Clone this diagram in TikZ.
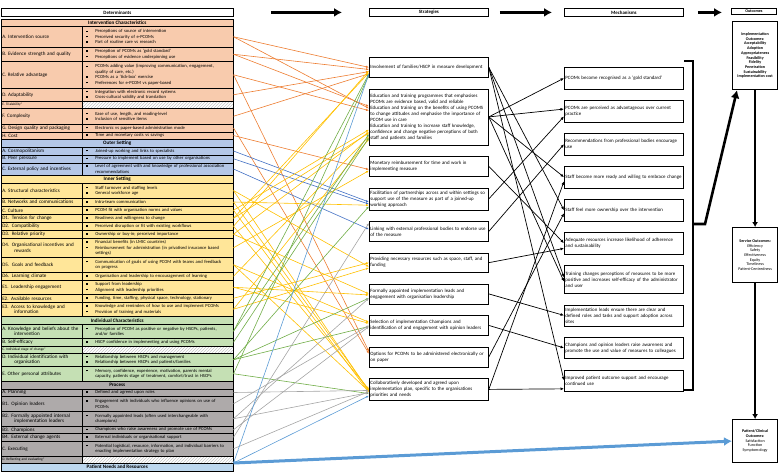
\documentclass[tikz,border=0pt]{standalone}
\usepackage{fontspec}
\setmainfont{Carlito}
\usepackage{xcolor}
\usepackage{tikz}
\usetikzlibrary{arrows.meta,positioning,patterns}

\definecolor{icfill}{HTML}{F8CBAD}
\definecolor{osfill}{HTML}{B4C7E7}
\definecolor{isfill}{HTML}{FFE699}
\definecolor{idfill}{HTML}{C5E0B4}
\definecolor{prfill}{HTML}{AEAAAA}
\definecolor{pnfill}{HTML}{BDD7EE}
\definecolor{icline}{HTML}{ED7D31}
\definecolor{osline}{HTML}{4472C4}
\definecolor{isline}{HTML}{FFC000}
\definecolor{idline}{HTML}{70AD47}
\definecolor{prline}{HTML}{A5A5A5}
\definecolor{pnline}{HTML}{5B9BD5}

\newcommand{\tabfont}{\fontsize{5.1}{5.5}\selectfont}
\newcommand{\itemfont}{\fontsize{4.6}{5.4}\selectfont}
\newcommand{\tinyfont}{\fontsize{3.5}{4}\selectfont}
\newcommand{\boxfont}{\fontsize{4.9}{6}\selectfont}
\newcommand{\outfont}{\fontsize{4.1}{4.7}\selectfont}
\newcommand{\bul}{\makebox[12pt][l]{\hspace{3pt}\rule[0.9pt]{1.5pt}{1.5pt}}}
\newcommand{\cont}{\hspace*{12pt}}

\tikzstyle{labcell} = [draw, line width=0.5pt, anchor=north west, text width=79pt,
    inner xsep=1pt, inner ysep=0pt, align=left, font=\tabfont]
\tikzstyle{itemcell} = [draw, line width=0.5pt, anchor=north west, text width=149pt,
    inner xsep=1pt, inner ysep=0pt, align=left, font=\itemfont]
\tikzstyle{hatchcell} = [itemcell, pattern=north east lines, pattern color=gray!45]
\tikzstyle{headcell} = [draw, line width=0.5pt, anchor=north west, minimum width=232pt,
    inner sep=0pt, align=center, font=\tabfont\bfseries]
\tikzstyle{colhead} = [draw, line width=0.8pt, anchor=north west, minimum height=8pt,
    inner sep=0pt, font=\boxfont\bfseries]
\tikzstyle{stratbox} = [draw, line width=0.8pt, fill=white, text width=117pt,
    inner xsep=1pt, inner ysep=0pt, align=left, font=\boxfont]
\tikzstyle{outbox} = [draw, line width=1.2pt, anchor=north west, minimum width=45pt,
    inner sep=0pt, align=center, font=\outfont]
\tikzstyle{link} = [draw, -{Latex[length=3pt,width=2.4pt]}, line width=0.6pt]
\tikzstyle{mlink} = [draw, black, -{Latex[length=3.5pt,width=3pt]}, line width=0.7pt]
\tikzstyle{bigarrow} = [draw, line width=3pt, -{Latex[length=8pt,width=9pt]}]
\tikzstyle{vlink} = [draw, line width=2pt, -{Latex[length=5pt,width=6pt]}]

% one row of the determinants table: name, top, height, colour, label, items
\newcommand{\detrow}[6]{%
  \node[labcell, fill=#4, minimum height=#3pt] (#1l) at (1,#2) {#5};
  \node[itemcell, fill=#4, minimum height=#3pt] (#1) at (82,#2) {#6};}
\newcommand{\hatchrow}[5]{%
  \node[labcell, fill=#4, minimum height=#3pt, font=\tinyfont] (#1l) at (1,#2) {#5};
  \node[hatchcell, minimum height=#3pt] (#1) at (82,#2) {};}
\newcommand{\headrow}[5]{%
  \node[headcell, fill=#4, minimum height=#3pt] (#1) at (1,#2) {#5};}

\begin{document}
\begin{tikzpicture}[x=1pt, y=-1pt]
    \useasboundingbox (0,0) rectangle (778,472);

    % Column headers
    \node[colhead, minimum width=232pt] (dethead) at (1,8) {Determinants};
    \node[colhead, minimum width=119pt] (strhead) at (369,8) {Strategies};
    \node[colhead, minimum width=119pt] (mechhead) at (564,8) {Mechanisms};
    \node[colhead, minimum width=45pt, minimum height=5.5pt, font=\outfont\bfseries] (outhead) at (731,8) {Outcomes};
    \draw[bigarrow] ([xshift=37pt]dethead.east) -- ([xshift=-27pt]strhead.west);
    \draw[bigarrow] ([xshift=11pt]strhead.east) -- ([xshift=-12pt]mechhead.west);
    \draw[bigarrow] ([xshift=14pt]mechhead.east) -- ([xshift=-9pt]mechhead.east -| outhead.west);

    % Determinants
    \headrow{hIC}{19}{7}{icfill}{Intervention Characteristics}
    \detrow{IA}{26}{21}{icfill}{A. Intervention source}{\bul Perceptions of source of intervention\\ \bul Perceived security of e-PCOMs\\ \bul Part of routine care vs research}
    \detrow{IB}{47}{14}{icfill}{B. Evidence strength and quality}{\bul Perception of PCOMs as `gold standard'\\ \bul Perceptions of evidence underpinning use}
    \detrow{IC}{61}{27}{icfill}{C. Relative advantage}{\bul PCOMs adding value (improving communication, engagement,\\ \cont quality of care, etc.)\\ \bul PCOMs as a `tick-box' exercise\\ \bul Preferences for e-PCOM vs paper-based}
    \detrow{ID}{88}{13}{icfill}{D. Adaptability}{\bul Integration with electronic record systems\\ \bul Cross-cultural validity and translation}
    \hatchrow{IE}{101}{7}{icfill}{E. Trialability*}
    \detrow{IF}{108}{16}{icfill}{F. Complexity}{\bul Ease of use, length, and reading-level\\ \bul Inclusion of sensitive items}
    \detrow{IG}{124}{7.5}{icfill}{G. Design quality and packaging}{\bul Electronic vs paper-based administration mode}
    \detrow{IH}{131.5}{7.5}{icfill}{H. Cost}{\bul Time and monetary costs vs savings}
    \headrow{hOS}{139}{8}{osfill}{Outer Setting}
    \detrow{OA}{147}{7.5}{osfill}{A. Cosmopolitanism}{\bul Joined-up working and links to specialists}
    \detrow{OB}{154.5}{8}{osfill}{B. Peer pressure}{\bul Pressure to implement based on use by other organisations}
    \detrow{OC}{162.5}{12.5}{osfill}{C. External policy and incentives}{\bul Level of agreement with and knowledge of professional association\\ \cont recommendations}
    \headrow{hIS}{175}{8}{isfill}{Inner Setting}
    \detrow{NA}{183}{14.5}{isfill}{A. Structural characteristics}{\bul Staff turnover and staffing levels\\ \bul General workforce age}
    \detrow{NB}{197.5}{8.5}{isfill}{B. Networks and communications}{\bul Intra-team communication}
    \detrow{NC}{206}{8}{isfill}{C. Culture}{\bul PCOM fit with organisation norms and values}
    \detrow{ND1}{214}{8}{isfill}{D1. Tension for change}{\bul Readiness and willingness to change}
    \detrow{ND2}{222}{8}{isfill}{D2. Compatibility}{\bul Perceived disruption or fit with existing workflows}
    \detrow{ND3}{230}{8}{isfill}{D3. Relative priority}{\bul Ownership or buy-in; perceived importance}
    \detrow{ND4}{238}{19}{isfill}{D4. Organisational incentives and\\ \cont rewards}{\bul Financial benefits (in LMIC countries)\\ \bul Reimbursement for administration (in privatised insurance based\\ \cont settings)}
    \detrow{ND5}{257}{15}{isfill}{D5. Goals and feedback}{\bul Communication of goals of using PCOM with teams and feedback\\ \cont on progress}
    \detrow{ND6}{272}{8}{isfill}{D6. Learning climate}{\bul Organisation and leadership to encouragement of learning}
    \detrow{NE1}{280}{14}{isfill}{E1. Leadership engagement}{\bul Support from leadership\\ \bul Alignment with leadership priorities}
    \detrow{NE2}{294}{8}{isfill}{E2. Available resources}{\bul Funding, time, staffing, physical space, technology, stationary}
    \detrow{NE3}{302}{14}{isfill}{E3. Access to knowledge and\\ \cont information}{\bul Knowledge and reminders of how to use and implement PCOMs\\ \bul Provision of training and materials}
    \headrow{hID}{316}{8}{idfill}{Individual Characteristics}
    \detrow{GA}{324}{14}{idfill}{A. Knowledge and beliefs about the\\ \cont intervention}{\bul Perception of PCOM as positive or negative by HSCPs, patients,\\ \cont and/or families}
    \detrow{GB}{338}{8}{idfill}{B. Self-efficacy}{\bul HSCP confidence in implementing and using PCOMs}
    \hatchrow{GC}{346}{7}{idfill}{C. Individual stage of change*}
    \detrow{GD}{353}{13}{idfill}{D. Individual identification with\\ \cont organisation}{\bul Relationship between HSCPs and management\\ \bul Relationship between HSCPs and patients/families}
    \detrow{GE}{366}{15}{idfill}{E. Other personal attributes}{\bul Memory, confidence, experience, motivation, parents mental\\ \cont capacity, patients stage of treatment, comfort/trust in HSCPs}
    \headrow{hPR}{381}{7.5}{prfill}{Process}
    \detrow{PA}{388.5}{7.5}{prfill}{A. Planning}{\bul Defined and agreed upon roles}
    \detrow{PB1}{396}{15}{prfill}{B1. Opinion leaders}{\bul Engagement with individuals who influence opinions on use of\\ \cont PCOMs}
    \detrow{PB2}{411}{15}{prfill}{B2. Formally appointed internal\\ \cont implementation leaders}{\bul Formally appointed leads (often used interchangeable with\\ \cont champions)}
    \detrow{PB3}{426}{7}{prfill}{B3. Champions}{\bul Champions who raise awareness and promote use of PCOMs}
    \detrow{PB4}{433}{8}{prfill}{B4. External change agents}{\bul External individuals or organisational support}
    \detrow{PC}{441}{15}{prfill}{C. Executing}{\bul Potential logistical, resource, information, and individual barriers to\\ \cont enacting implementation strategy to plan}
    \hatchrow{PD}{456}{7}{prfill}{D. Reflecting and evaluating*}
    \headrow{PN}{463}{7.5}{pnfill}{Patient Needs and Resources}

    % Strategies
    \node[stratbox, minimum height=20pt, anchor=north west] (s1) at (369,57) {Involvement of families/HSCP in measure development};
    \node[stratbox, minimum height=56pt, below=10.7pt of s1] (s2) {Education and training programmes that emphasises\\ PCOMs are evidence based, valid and reliable\\ Education and training on the benefits of using PCOMS\\ to change attitudes and emphasise the importance of\\ PCOM use in care\\ Education and training to increase staff knowledge,\\ confidence and change negative perceptions of both\\ staff and patients and families};
    \node[stratbox, minimum height=20pt, below=10.7pt of s2] (s3) {Monetary reimbursement for time and work in\\ implementing measure};
    \node[stratbox, minimum height=22pt, below=10.7pt of s3] (s4) {Facilitation of partnerships across and within settings so\\ support use of the measure as part of a joined-up\\ working approach};
    \node[stratbox, minimum height=20pt, below=10.7pt of s4] (s5) {Linking with external professional bodies to endorse use\\ of the measure};
    \node[stratbox, minimum height=19.5pt, below=10.7pt of s5] (s6) {Providing necessary resources such as space, staff, and\\ funding};
    \node[stratbox, minimum height=20pt, below=10.7pt of s6] (s7) {Formally appointed implementation leads and\\ engagement with organisation leadership};
    \node[stratbox, minimum height=20pt, below=10.7pt of s7] (s8) {Selection of implementation Champions and\\ identification of and engagement with opinion leaders};
    \node[stratbox, minimum height=20pt, below=10.7pt of s8] (s9) {Options for PCOMs to be administered electronically or\\ on paper};
    \node[stratbox, minimum height=22pt, below=10.7pt of s9] (s10) {Collaboratively developed and agreed upon\\ implementation plan, specific to the organisations\\ priorities and needs};

    % Mechanisms
    \node[stratbox, minimum height=21.5pt, anchor=north west] (m1) at (564,67) {PCOMs become recognised as a `gold standard'};
    \node[stratbox, minimum height=21.5pt, below=10.7pt of m1] (m2) {PCOMs are perceived as advantageous over current\\ practice};
    \node[stratbox, minimum height=21.5pt, below=10.7pt of m2] (m3) {Recommendations from professional bodies encourage\\ use};
    \node[stratbox, minimum height=21.5pt, below=10.7pt of m3] (m4) {Staff become more ready and willing to embrace change};
    \node[stratbox, minimum height=21.5pt, below=10.7pt of m4] (m5) {Staff feel more ownership over the intervention};
    \node[stratbox, minimum height=21.5pt, below=10.7pt of m5] (m6) {Adequate resources increase likelihood of adherence\\ and sustainability};
    \node[stratbox, minimum height=28pt, below=10.7pt of m6] (m7) {Training changes perceptions of measures to be more\\ positive and increases self-efficacy of the administrator\\ and user};
    \node[stratbox, minimum height=21pt, below=10.7pt of m7] (m8) {Implementation leads ensure there are clear and\\ defined roles and tasks and support adoption across\\ sites};
    \node[stratbox, minimum height=21pt, below=10.7pt of m8] (m9) {Champions and opinion leaders raise awareness and\\ promote the use and value of measures to colleagues};
    \node[stratbox, minimum height=21pt, below=10.7pt of m9] (m10) {Improved patient outcome support and encourage\\ continued use};

    % Outcomes
    \node[outbox, minimum height=68pt, font=\outfont\bfseries] (impl) at (732,21) {Implementation\\ Outcomes:\\ Acceptability\\ Adoption\\ Appropriateness\\ Feasibility\\ Fidelity\\ Penetration\\ Sustainability\\ Implementation cost};
    \node[outbox, minimum height=55pt] (serv) at (732,227) {\textbf{Service Outcomes:}\\ Efficiency\\ Safety\\ Effectiveness\\ Equity\\ Timeliness\\ Patient-Centredness};
    \node[outbox, minimum height=43pt] (pat) at (732,419) {\textbf{Patient/Clinical}\\ \textbf{Outcomes:}\\ Satisfaction\\ Function\\ Symptomology};
    \draw[vlink] (impl.south) -- (serv.north);
    \draw[vlink] (serv.south) -- (pat.north);

    % Bracket round the mechanisms
    \draw[line width=2.6pt] (684,61) -- (693,61) -- (693,390) -- (683,390);
    \coordinate (brk) at (693,224);
    \coordinate (brkout) at (705,224);
    \draw[bigarrow, line width=2.6pt] (brk) -- (brkout) -- ([xshift=5pt]impl.south west);

    % Determinants -> strategies
    \foreach \a/\b in {IA/s1.180, IA/s2.172, IB/s1.182, IB/s2.170, IC/s2.174, IC/s9.175,
        ID/s1.184, IF/s1.186, IG/s9.177, IH/s3.183}
        \draw[link, icline] (\a.east) -- (\b);
    \foreach \a/\b in {OA/s4.183, OB/s4.185, OC/s5.178}
        \draw[link, osline] (\a.east) -- (\b);
    \foreach \a/\b in {NA/s10.182, NA/s6.184, NB/s4.186, NB/s10.181, NC/s2.192, NC/s10.183,
        ND1/s2.195, ND1/s1.185, ND2/s10.180, ND2/s1.183, ND3/s7.180, ND3/s2.194,
        ND4/s3.184, ND5/s10.182, ND5/s8.177, ND6/s2.198, NE1/s7.181, NE1/s8.178,
        NE2/s6.180, NE3/s2.200, NE3/s6.185}
        \draw[link, isline] (\a.east) -- (\b);
    \foreach \a/\b in {GA/s2.196, GA/s1.186, GB/s2.199, GD/s7.184, GD/s8.181, GD/s4.187,
        GE/s1.187, GE/s10.184}
        \draw[link, idline] (\a.east) -- (\b);
    \foreach \a/\b in {PA/s10.181, PB1/s8.180, PB2/s7.184, PB2/s10.183, PB3/s8.181,
        PB4/s5.172, PC/s10.182}
        \draw[link, prline] (\a.east) -- (\b);
    \draw[link, pnline] (PN.north east) -- (s1.186);
    \draw[link, pnline] (PN.north east) -- (s10.186);
    \draw[bigarrow, pnline] (PN.north east) -- (pat.west);

    % Strategies -> mechanisms
    \foreach \a/\b in {s1/m5.180, s1/m10.180, s1/m7.178, s2/m1.180, s2/m2.178, s2/m4.180,
        s2/m7.182, s3/m6.180, s4/m2.185, s5/m3.180, s6/m6.185, s7/m8.180, s8/m9.180,
        s9/m5.183, s10/m4.184, s10/m10.188}
        \draw[mlink] (\a.east) -- (\b);
\end{tikzpicture}
\end{document}
